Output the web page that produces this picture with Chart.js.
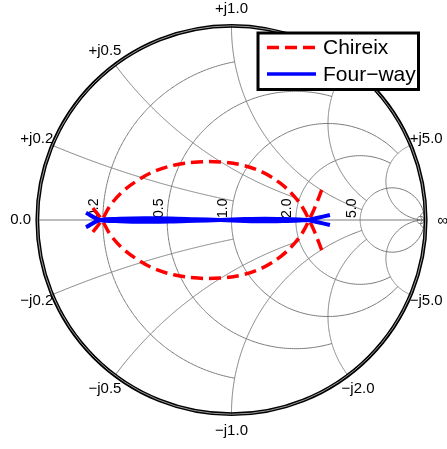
<!DOCTYPE html>
<html>
<head>
<meta charset="utf-8">
<script src="https://cdn.jsdelivr.net/npm/chart.js@4/dist/chart.umd.min.js"></script>
<style>
html, body { margin: 0; padding: 0; background: #fff; }
#wrap { width: 447px; height: 449px; }
</style>
</head>
<body>
<div id="wrap"><canvas id="smith"></canvas></div>
<script>
// reflection coefficient (re, im) of the two load trajectories
const chireixARe = [-0.718, -0.671, -0.630, -0.567, -0.484, -0.396, -0.293, -0.174, -0.060, 0.054, 0.158, 0.251, 0.324, 0.370, 0.402, 0.433, 0.469];
const chireixAIm = [-0.062, 0.000, 0.073, 0.145, 0.207, 0.254, 0.285, 0.301, 0.301, 0.285, 0.249, 0.192, 0.124, 0.062, 0.000, -0.067, -0.161];
const chireixBRe = [-0.718, -0.671, -0.630, -0.567, -0.484, -0.396, -0.293, -0.174, -0.060, 0.054, 0.158, 0.251, 0.324, 0.370, 0.402, 0.433, 0.469];
const chireixBIm = [0.062, 0.000, -0.073, -0.145, -0.207, -0.254, -0.285, -0.301, -0.301, -0.285, -0.249, -0.192, -0.124, -0.062, 0.000, 0.067, 0.161];

const fourWayARe = [-0.754, -0.681, -0.578, -0.448, -0.319, -0.189, -0.060, 0.070, 0.174, 0.277, 0.355, 0.391, 0.448, 0.510];
const fourWayAIm = [0.038, 0.000, -0.006, -0.009, -0.008, -0.004, 0.000, 0.005, 0.007, 0.005, 0.002, 0.000, -0.012, -0.026];
const fourWayBRe = [-0.754, -0.681, -0.578, -0.448, -0.319, -0.189, -0.060, 0.070, 0.174, 0.277, 0.355, 0.391, 0.448, 0.510];
const fourWayBIm = [-0.038, 0.000, 0.006, 0.009, 0.008, 0.004, 0.000, -0.005, -0.007, -0.005, -0.002, 0.000, 0.012, 0.026];

// grid: normalized resistance / reactance ticks and where each line stops
const realTicks = [0.2, 0.5, 1.0, 2.0, 5.0];
const realStops = [1, 2, 5, 5, Infinity];
const imagTicks = [0.2, 0.5, 1.0, 2.0, 5.0];
const imagStops = [1, 2, 5, 5, Infinity];

const pts = (re, im) => re.map((v, i) => ({ x: v, y: im[i] }));

// z -> gamma
function gam(r, xi) {
    const den = (r + 1) * (r + 1) + xi * xi;
    return [(r * r - 1 + xi * xi) / den, (2 * xi) / den];
}

const smithGrid = {
    id: 'smithGrid',
    beforeDatasetsDraw(chart) {
        const { ctx, scales: { x, y } } = chart;
        const px = (g) => [x.getPixelForValue(g[0]), y.getPixelForValue(g[1])];
        const trace = (fn, u0, u1) => {
            ctx.beginPath();
            const n = 300;
            for (let i = 0; i <= n; i++) {
                const u = u0 + (u1 - u0) * i / n;
                const p = px(fn(Math.tan(u)));
                if (i === 0) ctx.moveTo(p[0], p[1]); else ctx.lineTo(p[0], p[1]);
            }
            ctx.stroke();
        };
        const lim = (v) => v === Infinity ? Math.PI / 2 - 1e-7 : Math.atan(v);

        ctx.save();
        ctx.strokeStyle = '#7a7a7a';
        ctx.lineWidth = 1;
        // real axis
        const a = px([-1, 0]), b = px([1, 0]);
        ctx.beginPath(); ctx.moveTo(a[0], a[1]); ctx.lineTo(b[0], b[1]); ctx.stroke();
        // resistance circles
        realTicks.forEach((r, i) => {
            const e = lim(realStops[i]);
            trace(t => gam(r, t), -e, e);
        });
        // reactance arcs
        imagTicks.forEach((xv, i) => {
            const e = lim(imagStops[i]);
            trace(t => gam(t, xv), 0, e);
            trace(t => gam(t, -xv), 0, e);
        });
        // tiny circles close to infinity
        trace(t => gam(50, t), -Math.PI / 2 + 1e-7, Math.PI / 2 - 1e-7);
        trace(t => gam(t, 50), 0, Math.PI / 2 - 1e-7);
        trace(t => gam(t, -50), 0, Math.PI / 2 - 1e-7);

        // outer border
        const c = px([0, 0]);
        const R = x.getPixelForValue(1) - c[0];
        ctx.beginPath(); ctx.arc(c[0], c[1], R + 1.2, 0, Math.PI * 2);
        ctx.strokeStyle = '#000'; ctx.lineWidth = 3.8; ctx.stroke();
        ctx.beginPath(); ctx.arc(c[0], c[1], R + 1.2, 0, Math.PI * 2);
        ctx.strokeStyle = '#9a9a9a'; ctx.lineWidth = 1; ctx.stroke();

        // labels
        ctx.fillStyle = '#000';
        ctx.font = '15px "Liberation Sans", Arial, sans-serif';
        ctx.textAlign = 'center';
        ctx.textBaseline = 'middle';
        const out = 1.093;
        const putRadial = (g, txt) => {
            ctx.fillText(txt, c[0] + (x.getPixelForValue(g[0]) - c[0]) * out,
                c[1] + (y.getPixelForValue(g[1]) - c[1]) * out);
        };
        imagTicks.forEach(xv => {
            putRadial(gam(0, xv), '+j' + xv.toFixed(1));
            putRadial(gam(0, -xv), '\u2212j' + xv.toFixed(1));
        });
        putRadial([-1, 0], '0.0');
        ctx.fillText('\u221e', x.getPixelForValue(1) + 18, c[1] + 1);

        ctx.font = '14px "Liberation Sans", Arial, sans-serif';
        ctx.textAlign = 'left';
        realTicks.forEach(r => {
            const p = px(gam(r, 0));
            ctx.save();
            ctx.translate(p[0] - 8.3, p[1] - 2);
            ctx.rotate(-Math.PI / 2);
            ctx.fillText(r.toFixed(1), 0, 0);
            ctx.restore();
        });
        ctx.restore();
    }
};

const smithLegend = {
    id: 'smithLegend',
    afterDraw(chart) {
        const { ctx } = chart;
        const items = chart.data.datasets.filter(d => !d.label.startsWith('_'));
        ctx.save();
        ctx.fillStyle = '#fff';
        ctx.fillRect(258, 33, 160.5, 56.5);
        ctx.strokeStyle = '#000';
        ctx.lineWidth = 3;
        ctx.strokeRect(258, 33, 160.5, 56.5);
        ctx.font = '21px "Liberation Sans", Arial, sans-serif';
        ctx.textBaseline = 'middle';
        items.forEach((d, i) => {
            const yy = 47.5 + i * 26.5;
            ctx.beginPath();
            ctx.setLineDash(d.borderDash || []);
            ctx.strokeStyle = d.borderColor;
            ctx.lineWidth = 3.5;
            ctx.moveTo(267, yy);
            ctx.lineTo(316, yy);
            ctx.stroke();
            ctx.setLineDash([]);
            ctx.fillStyle = '#000';
            ctx.fillText(d.label, 323, yy + 1);
        });
        ctx.restore();
    }
};

const redLine = { borderColor: '#ff0000', borderWidth: 3.5, borderDash: [12, 6], order: 1 };
const blueLine = { borderColor: '#0000ff', borderWidth: 4, order: 0 };

new Chart(document.getElementById('smith').getContext('2d'), {
    type: 'scatter',
    data: {
        datasets: [
            { label: 'Chireix', data: pts(chireixARe, chireixAIm), ...redLine },
            { label: 'Four\u2212way', data: pts(fourWayARe, fourWayAIm), ...blueLine },
            { label: '_chireix2', data: pts(chireixBRe, chireixBIm), ...redLine },
            { label: '_fourway2', data: pts(fourWayBRe, fourWayBIm), ...blueLine }
        ]
    },
    options: {
        responsive: true,
        maintainAspectRatio: false,
        animation: false,
        events: [],
        layout: { padding: 0 },
        datasets: { scatter: { showLine: true, pointRadius: 0, tension: 0.35, fill: false } },
        scales: {
            x: { type: 'linear', display: false, min: -1.1995, max: 1.1166 },
            y: { type: 'linear', display: false, min: -1.1865, max: 1.1399 }
        },
        plugins: { legend: { display: false }, tooltip: { enabled: false } }
    },
    plugins: [smithGrid, smithLegend]
});
</script>
</body>
</html>
